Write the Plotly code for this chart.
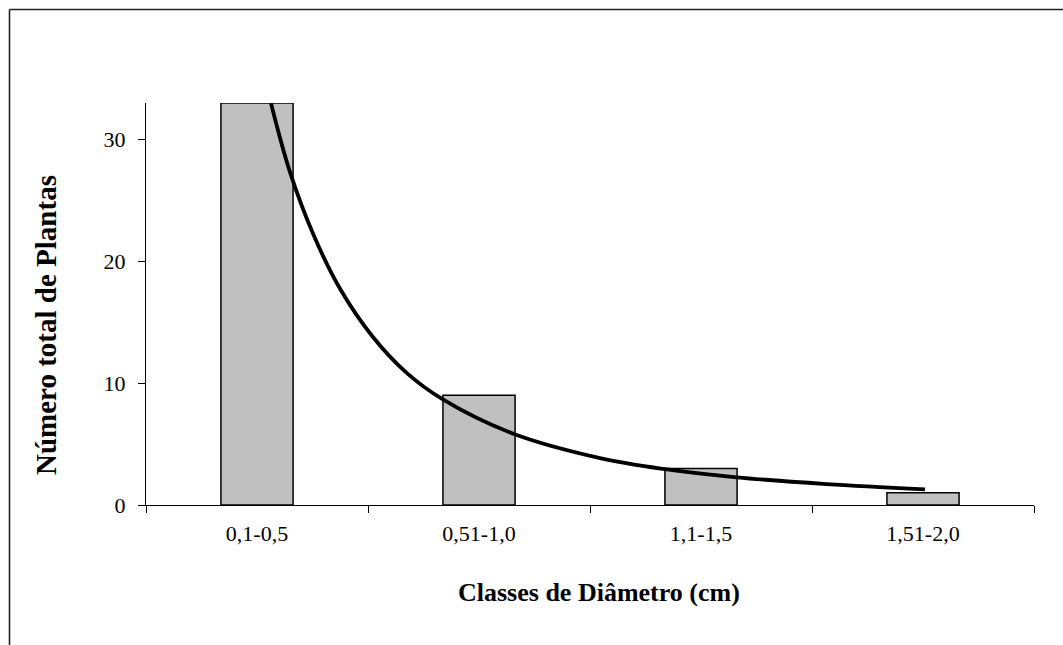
import plotly.graph_objects as go

categories = ["0,1-0,5", "0,51-1,0", "1,1-1,5", "1,51-2,0"]
plant_counts = [33, 9, 3, 1]

# trend curve (x in category-index units, y in plants)
trend_x = [0.063, 0.149, 0.254, 0.374, 0.524, 0.674, 0.839, 1.155, 1.545, 1.830, 2.161, 2.566, 3.009]
trend_y = [32.98, 27.3, 22.2, 17.75, 13.75, 10.85, 8.65, 5.85, 3.85, 2.96, 2.27, 1.72, 1.29]

y_ticks = [0, 10, 20, 30]

FONT = "Liberation Serif, Times New Roman, serif"

fig = go.Figure()
fig.add_trace(go.Bar(
    x=categories, y=plant_counts, width=0.325,
    marker=dict(color="#c0c0c0", line=dict(color="#000000", width=1.5)),
    showlegend=False, hoverinfo="skip",
))
fig.add_trace(go.Scatter(
    x=trend_x, y=trend_y, xaxis="x2", mode="lines",
    line=dict(color="#000000", width=3.8, shape="spline", smoothing=1.0),
    showlegend=False, hoverinfo="skip", cliponaxis=True,
))

L, R, T, B = 146, 29, 103, 140
W, H = 1063, 645
pw, ph = W - L - R, H - T - B

def px2paper_x(px):
    return (px - L) / pw

def px2paper_y(py):
    return (H - B - py) / ph

fig.update_layout(
    width=W, height=H,
    margin=dict(l=L, r=R, t=T, b=B, pad=0),
    paper_bgcolor="white", plot_bgcolor="white",
    font=dict(family=FONT, size=22, color="#000000"),
    xaxis=dict(
        type="category", tickson="boundaries", ticks="outside", ticklen=7,
        tickcolor="#000000", tickwidth=1, showline=True, linecolor="#000000",
        linewidth=1, showgrid=False, zeroline=False,
        tickfont=dict(family=FONT, size=22, color="#000000"),
        ticklabelstandoff=9, range=[-0.5, 3.5],
    ),
    xaxis2=dict(overlaying="x", range=[-0.5, 3.5], visible=False),
    yaxis=dict(
        range=[0, 33], tickvals=y_ticks, ticks="outside", ticklen=7,
        tickcolor="#000000", tickwidth=1, showline=True, linecolor="#000000",
        linewidth=1, showgrid=False, zeroline=False,
        tickfont=dict(family=FONT, size=22, color="#000000"),
        ticklabelstandoff=8,
    ),
    annotations=[
        dict(text="<b>Classes de Diâmetro (cm)</b>", xref="paper", yref="paper",
             x=px2paper_x(599), y=px2paper_y(592), showarrow=False,
             xanchor="center", yanchor="middle",
             font=dict(family=FONT, size=26, color="#000000")),
        dict(text="<b>Número total de Plantas</b>", xref="paper", yref="paper",
             x=px2paper_x(46), y=px2paper_y(325), showarrow=False, textangle=-90,
             xanchor="center", yanchor="middle",
             font=dict(family=FONT, size=29, color="#000000")),
    ],
    shapes=[
        dict(type="line", xref="paper", yref="paper",
             x0=px2paper_x(9.5), y0=px2paper_y(9.5), x1=px2paper_x(1070), y1=px2paper_y(9.5),
             line=dict(color="#222222", width=1.6)),
        dict(type="line", xref="paper", yref="paper",
             x0=px2paper_x(9.5), y0=px2paper_y(9.5), x1=px2paper_x(9.5), y1=px2paper_y(660),
             line=dict(color="#222222", width=1.6)),
    ],
)

fig.write_html("out.html")
